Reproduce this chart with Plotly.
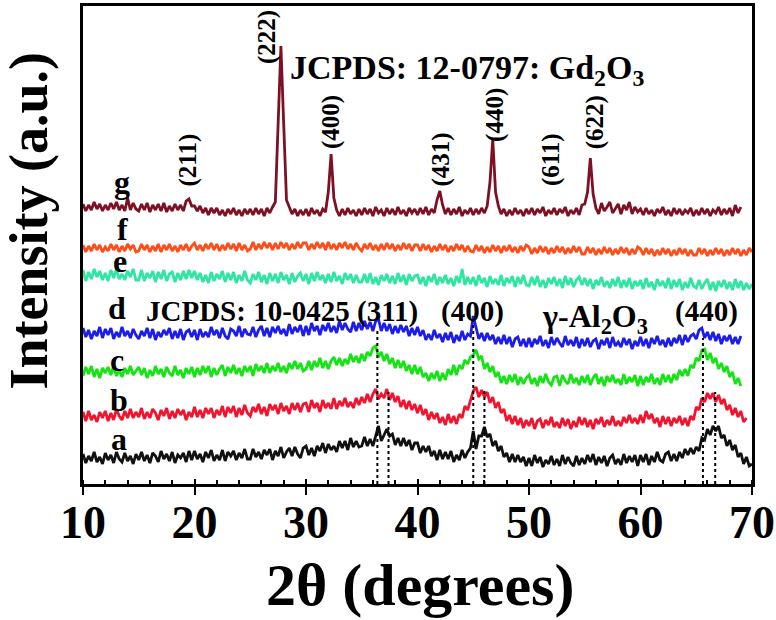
import numpy as np
import plotly.graph_objects as go

# 2theta grid, 0.25 deg step
two_theta = np.arange(10, 70.001, 0.25)

# intensities (a.u., traces already offset as in the figure)
a_bare = [30,21,28,23,32,22,27,20,31,24,29,21,32,25,22,31,23,28,20,30,
          24,32,23,29,21,31,28,22,33,25,30,23,32,21,29,26,31,22,33,24,
          33,25,30,22,32,26,34,23,29,24,34,23,32,28,33,24,31,26,35,25,
          25,35,27,32,25,34,29,35,24,33,28,37,26,32,36,28,37,30,26,36,
          38,29,36,28,38,33,41,31,40,34,38,32,43,36,43,34,46,37,43,37,
          38,47,38,45,38,48,58,43,50,55,48,50,39,46,38,46,38,44,34,41,
          41,31,38,32,38,28,33,24,34,25,32,25,33,22,29,24,34,26,32,36,
          53,35,48,48,57,47,50,38,43,33,38,27,31,22,30,22,29,22,27,18,
          26,18,29,21,27,17,24,20,28,19,25,18,29,20,27,21,18,28,19,26,
          20,29,22,30,19,27,21,28,18,26,29,20,25,19,30,21,28,22,29,18,
          29,22,30,19,28,22,32,24,22,30,32,23,30,23,32,26,35,29,36,30,
          37,33,46,44,55,49,58,53,58,46,49,38,44,34,39,27,31,20,27,18,
          20]

b_calcined = [72,63,73,64,69,62,72,66,73,63,71,64,75,68,64,73,66,75,66,72,
              67,76,65,72,66,75,71,64,74,68,76,65,73,66,75,69,74,64,72,67,
              77,67,74,66,76,70,76,66,74,69,78,67,77,71,78,67,76,69,79,71,
              68,77,72,80,70,77,68,80,74,79,70,81,73,78,70,81,74,81,72,80,
              81,72,84,76,81,72,84,76,81,75,86,75,83,78,86,77,82,76,86,79,
              87,81,90,82,90,95,85,90,86,95,84,91,82,88,77,84,75,83,74,80,
              71,79,69,75,64,72,65,71,61,67,59,70,61,68,60,70,66,78,74,85,
              93,97,87,94,87,92,81,87,76,82,71,75,63,69,60,68,59,66,56,64,
              58,66,55,63,65,56,64,59,67,57,62,56,66,58,65,55,63,57,67,59,
              66,57,64,55,65,60,67,57,64,59,68,58,63,58,67,61,69,61,66,60,
              69,61,73,65,70,61,66,57,68,60,67,58,66,61,68,59,66,58,68,64,
              77,74,86,82,91,85,91,82,89,80,85,74,79,69,76,67,73,62,66]

c_sample = [108,117,110,118,107,115,106,116,111,117,109,118,108,114,107,116,110,118,109,113,
            117,109,116,106,114,108,118,110,115,107,117,111,108,118,109,114,106,116,110,117,
            107,116,109,118,111,118,107,116,109,115,119,108,117,111,119,110,116,108,118,112,
            118,108,120,113,118,111,121,111,118,113,121,112,118,111,121,115,123,115,121,113,
            115,123,114,123,117,126,116,123,115,123,127,119,126,118,125,120,130,122,128,121,
            130,123,132,128,136,138,127,132,123,130,120,126,116,124,116,123,113,119,110,119,
            110,117,107,111,103,111,105,113,103,111,104,115,109,119,109,119,115,124,120,127,
            129,134,125,128,115,121,112,118,107,112,101,108,100,109,102,110,99,107,100,106,
            109,100,106,98,108,101,110,102,99,107,108,98,109,103,100,110,101,106,99,108,
            101,109,99,106,110,100,107,98,108,102,109,101,105,99,110,100,107,102,109,98,
            108,99,107,102,110,100,106,99,110,102,109,101,110,104,114,108,115,108,119,116,
            126,123,134,135,124,131,121,126,115,121,112,118,107,112,100,106,98]

d_sample = [156,147,154,145,153,148,157,146,155,149,156,145,152,147,157,148,153,146,155,149,
            145,153,148,156,146,155,144,152,147,154,149,156,145,153,146,155,144,152,154,147,
            154,144,155,147,152,147,157,149,154,146,156,148,145,155,153,148,158,147,155,150,
            149,157,147,154,158,148,156,147,157,151,158,150,155,148,160,150,157,152,159,148,
            158,149,161,153,158,149,159,153,161,152,158,151,163,154,161,155,152,162,153,161,
            154,163,155,162,153,163,165,153,161,153,160,150,158,151,159,152,158,148,156,149,
            157,148,154,144,150,144,154,146,150,142,151,144,152,141,149,143,153,144,150,148,
            168,155,145,151,143,151,144,149,140,147,140,149,140,147,137,145,147,138,145,137,
            146,137,145,140,148,138,144,136,147,139,146,141,137,148,139,144,138,147,136,145,
            138,146,137,143,145,135,144,139,146,136,147,138,142,137,146,139,145,135,143,138,
            147,138,145,136,146,140,148,139,144,137,146,138,146,141,149,139,149,142,148,150,
            145,154,156,146,152,144,152,143,150,140,148,143,149,140,147,140,148]

e_sample = [214,203,212,205,215,207,213,204,211,203,214,206,215,205,210,204,213,207,215,204,
            204,214,203,211,206,213,202,212,205,214,203,210,212,202,211,204,213,205,214,206,
            213,204,211,202,209,201,212,203,210,205,213,202,211,204,212,201,209,203,213,204,
            201,210,204,212,202,209,200,211,203,210,201,212,204,209,200,211,202,208,211,203,
            210,200,211,203,212,204,209,201,210,202,212,203,208,200,211,204,210,201,209,202,
            202,210,201,211,200,207,199,209,203,210,201,208,200,211,202,209,199,210,203,208,
            209,200,207,198,208,202,210,199,207,201,209,200,206,198,208,201,215,199,207,200,
            207,198,209,201,206,197,208,200,205,199,209,198,206,201,208,197,207,200,209,199,
            198,207,199,208,197,204,196,206,200,207,198,205,196,208,199,206,197,204,207,199,
            206,198,205,195,204,199,207,197,203,196,205,198,207,196,204,197,206,195,203,198,
            204,195,206,197,202,194,205,198,203,196,206,195,204,197,205,194,202,196,206,198,
            196,204,195,201,205,194,202,193,203,197,204,195,202,194,205,196,203,194,201,195,
            200]

f_sample = [239,232,238,233,240,234,239,232,237,233,240,234,239,232,238,233,240,235,239,232,
            233,240,234,239,232,238,233,240,232,239,234,240,233,238,232,239,234,240,233,238,
            241,234,239,233,240,235,241,234,240,233,239,234,241,235,240,233,241,234,239,233,
            235,242,234,240,235,242,236,241,234,241,235,242,236,241,234,240,235,242,236,241,
            241,234,240,235,242,236,241,234,242,235,240,234,241,236,242,235,240,234,241,236,
            233,240,235,241,234,239,233,240,234,241,235,240,233,239,234,241,235,240,233,239,
            239,233,240,234,239,232,238,233,240,234,239,232,238,233,240,234,239,232,238,233,
            232,239,233,238,231,237,232,239,233,238,231,238,233,239,232,237,231,238,233,239,
            237,230,236,231,238,232,237,230,236,231,238,232,237,230,236,231,238,232,237,230,
            230,237,231,236,229,235,230,237,231,236,229,235,230,237,231,236,229,235,230,237,
            235,229,236,230,235,228,234,229,236,230,235,228,234,229,236,230,235,228,234,229,
            229,236,230,235,228,234,229,236,230,235,228,234,229,236,230,235,228,234,229,236,
            232]

g_gd2o3 = [280,273,279,274,282,275,280,273,279,274,281,275,282,274,279,273,286,274,281,275,
           273,280,274,281,272,279,274,280,273,281,272,278,273,280,274,279,273,283,285,278,
           278,273,278,271,276,269,276,271,276,269,274,268,275,270,276,269,274,268,275,270,
           275,269,276,270,275,268,276,271,277,282,360,438,360,284,277,270,275,268,274,269,
           275,268,276,270,274,268,275,272,292,330,286,274,268,275,269,276,270,274,268,275,
           269,276,270,275,268,277,271,274,268,276,270,275,269,277,270,274,268,276,271,275,
           269,276,270,277,269,275,271,284,293,279,270,276,269,275,270,277,268,274,270,276,
           269,275,270,276,271,278,302,345,292,278,270,275,268,274,269,276,270,274,268,275,
           270,276,269,275,271,277,268,274,270,276,269,275,271,277,268,274,270,276,269,279,
           280,292,326,290,276,270,281,273,277,282,271,276,280,270,279,274,282,270,277,272,
           275,269,276,270,274,268,275,271,277,269,274,268,276,270,275,269,274,271,276,268,
           274,269,276,270,275,268,274,271,277,269,275,270,276,268,279,271,277]

series = [
    ("a", a_bare, "#111111"),
    ("b", b_calcined, "#F2142E"),
    ("c", c_sample, "#14E414"),
    ("d", d_sample, "#1C1CEB"),
    ("e", e_sample, "#2EE6A2"),
    ("f", f_sample, "#FF4C18"),
    ("g", g_gd2o3, "#7E1024"),
]

# gamma-Al2O3 reference lines (position, top of the dotted line)
ref_2theta = [36.4, 37.4, 45.0, 46.0, 65.6, 66.7]
ref_top = [154, 92, 167, 95, 146, 92]

# Gd2O3 reflections labelled above trace g
gd_hkl = ["(211)", "(222)", "(400)", "(431)", "(440)", "(611)", "(622)"]
gd_label_x = [19.46, 26.5, 32.25, 42.07, 46.94, 51.98, 55.95]
gd_label_y = [324, 447, 362, 324, 369, 324, 362]

# sample letters
letters = ["a", "b", "c", "d", "e", "f", "g"]
letter_x = [13.24, 13.24, 13.06, 13.06, 13.33, 13.5, 13.5]
letter_y = [45, 84, 124, 176, 223, 255, 302]

serif = "Liberation Serif"

fig = go.Figure()

for name, vals, col in series:
    fig.add_trace(go.Scatter(x=two_theta[:len(vals)], y=vals, mode="lines",
                             line=dict(color=col, width=2.8), name=name,
                             showlegend=False))

rx, ry = [], []
for p, t in zip(ref_2theta, ref_top):
    rx += [p, p, None]
    ry += [0, t, None]
fig.add_trace(go.Scatter(x=rx, y=ry, mode="lines",
                         line=dict(color="black", width=2, dash="dot"),
                         showlegend=False))

# dummy trace so the overlay axis (inner half of major ticks) is drawn
fig.add_trace(go.Scatter(x=[10, 70], y=[0, 0], xaxis="x2", mode="lines",
                         line=dict(width=0), showlegend=False, hoverinfo="skip"))

ann = []
for t, x, y in zip(gd_hkl, gd_label_x, gd_label_y):
    ann.append(dict(x=x, y=y, text=t, textangle=-90, showarrow=False,
                    font=dict(size=25, family=serif, weight="bold", color="black")))
for t, x, y in zip(letters, letter_x, letter_y):
    ann.append(dict(x=x, y=y, text=t, showarrow=False,
                    font=dict(size=32, family=serif, weight="bold", color="black")))

ann.append(dict(x=28.4, y=414, text="JCPDS: 12-0797: Gd<sub>2</sub>O<sub>3</sub>",
                xanchor="left", showarrow=False,
                font=dict(size=34, family=serif, weight="bold", color="black")))
ann.append(dict(x=15.5, y=173, text="JCPDS: 10-0425 (311)", xanchor="left",
                showarrow=False,
                font=dict(size=29, family=serif, weight="bold", color="black")))
ann.append(dict(x=44.95, y=173, text="(400)", showarrow=False,
                font=dict(size=29, family=serif, weight="bold", color="black")))
ann.append(dict(x=55.95, y=166, text="γ-Al<sub>2</sub>O<sub>3</sub>", showarrow=False,
                font=dict(size=32, family=serif, weight="bold", color="black")))
ann.append(dict(x=65.95, y=173, text="(440)", showarrow=False,
                font=dict(size=29, family=serif, weight="bold", color="black")))

# axis titles
ann.append(dict(xref="paper", yref="paper", x=0.504, y=-0.211, yanchor="middle",
                text="2θ (degrees)", showarrow=False,
                font=dict(size=60, family=serif, weight="bold", color="black")))
ann.append(dict(xref="paper", yref="paper", x=-0.08, y=0.552, xanchor="center",
                text="Intensity (a.u.)", textangle=-90, showarrow=False,
                font=dict(size=54, family=serif, weight="bold", color="black")))

fig.update_layout(
    width=776, height=620,
    margin=dict(l=83, r=24, t=6, b=136, autoexpand=False),
    plot_bgcolor="white", paper_bgcolor="white",
    font=dict(family=serif, color="black"),
    annotations=ann,
    xaxis=dict(range=[10, 70], tickvals=[10, 20, 30, 40, 50, 60, 70],
               ticks="outside", ticklen=8, tickwidth=2, tickcolor="black",
               ticklabelstandoff=-12, automargin=False,
               minor=dict(ticks="inside", dtick=2, ticklen=4, tickwidth=1.5,
                          tickcolor="black"),
               showline=True, linewidth=2.5, linecolor="black", mirror=True,
               showgrid=False, zeroline=False,
               tickfont=dict(size=46, family=serif, weight="bold", color="black")),
    xaxis2=dict(range=[10, 70], overlaying="x", anchor="y", side="bottom",
                tickvals=[10, 20, 30, 40, 50, 60, 70], ticks="inside",
                ticklen=5, tickwidth=2, tickcolor="black", automargin=False,
                showticklabels=False, showgrid=False, zeroline=False, showline=False),
    yaxis=dict(range=[0, 478], showticklabels=False, ticks="", automargin=False,
               showline=True, linewidth=2.5, linecolor="black", mirror=True,
               showgrid=False, zeroline=False),
)

# drop the browser's default page margin so the figure sits at (0, 0)
fig.write_html("out.html", config={"displayModeBar": False},
               post_script="document.body.style.margin='0';")
